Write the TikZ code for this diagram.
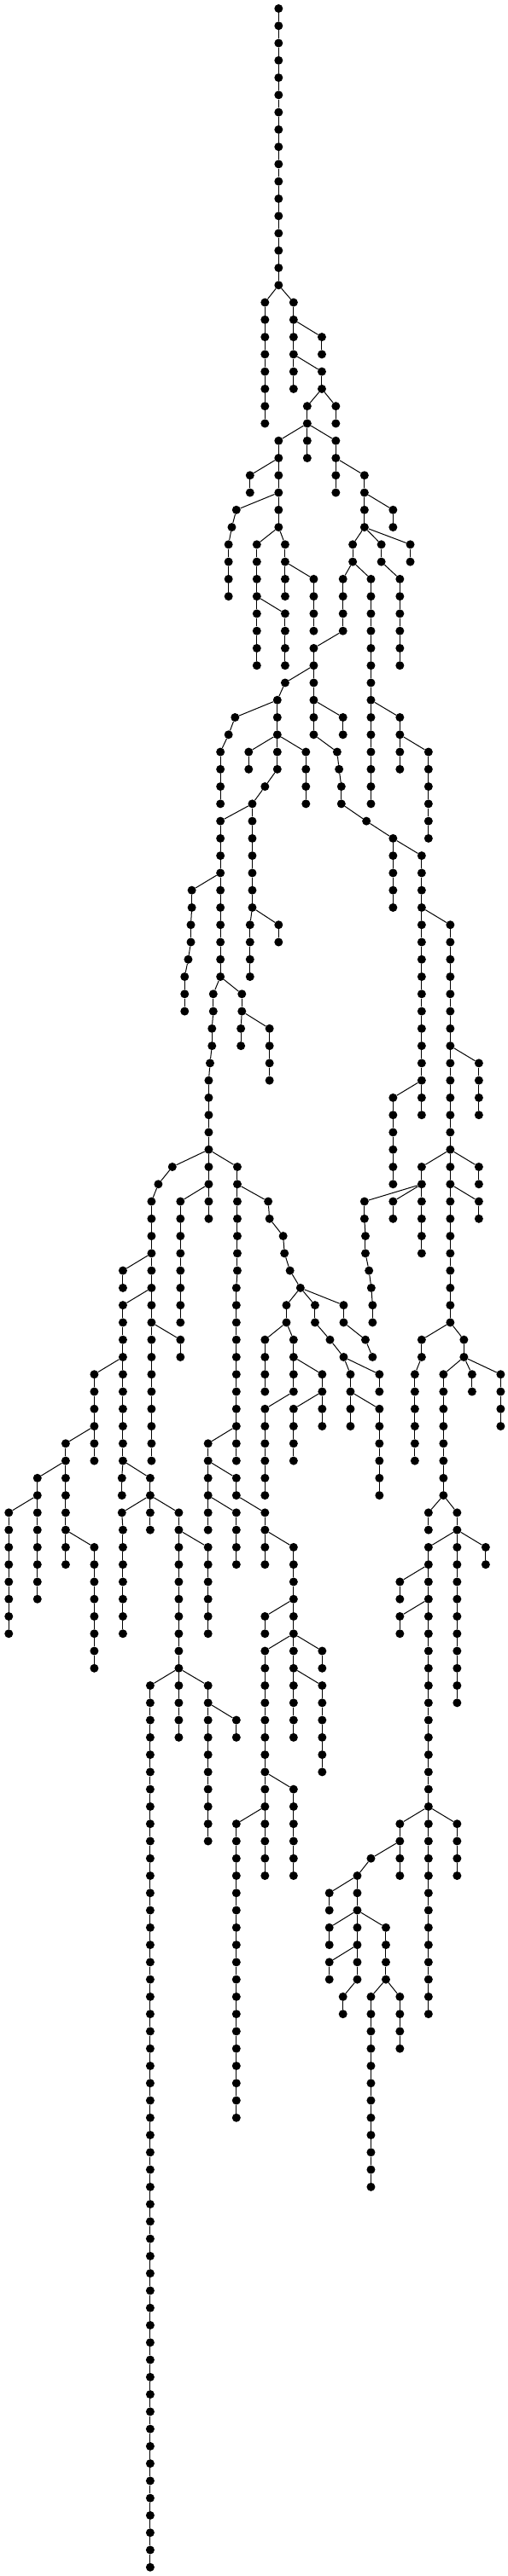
\documentclass[tikz,border=0pt]{standalone}

\newcommand\stem[5]{%
  \foreach \rr in {#4,...,#5} {
    \node[dot] (#1-\rr) at (#3,\rr) {};
    \ifnum\rr=#4\relax \draw[link] (#2) -- (#1-\rr);
    \else \pgfmathtruncatemacro\pp{\rr-1}\draw[link] (#1-\pp) -- (#1-\rr); \fi
  }}
\newcommand\branch[4]{%
  \foreach \xx [count=\i from #3] in {#4} {
    \node[dot] (#1-\i) at (\xx,\i) {};
    \ifnum\i=#3\relax \draw[link] (#2) -- (#1-\i);
    \else \pgfmathtruncatemacro\pp{\i-1}\draw[link] (#1-\pp) -- (#1-\i); \fi
  }}

\begin{document}
\begin{tikzpicture}[x=0.38077pt, y=-20.268pt,
  dot/.style={circle, fill=black, inner sep=0pt, minimum size=10pt},
  link/.style={line width=1pt}]
\useasboundingbox (0,-0.4934) rectangle (1560,148.507);

\node[dot] (a-0) at (857,0) {};
\stem{a}{a-0}{857}{1}{16}
\stem{b}{a-16}{815}{17}{24}
\stem{c}{a-16}{903}{17}{22}
\stem{d}{c-18}{990}{19}{20}
\stem{e}{c-20}{990}{21}{22}
\stem{g}{e-22}{1033}{23}{24}
\stem{f}{e-22}{945}{23}{24}
\stem{i}{f-24}{945}{25}{26}
\stem{h}{f-24}{857}{25}{26}
\stem{k}{h-26}{769}{27}{28}
\stem{l}{h-26}{857}{27}{28}
\branch{m}{l-28}{29}{727,713,703,703,703,703}
\stem{n}{l-28}{857}{29}{30}
\stem{o}{n-30}{790}{31}{38}
\stem{q}{o-34}{877}{35}{38}
\stem{p}{n-30}{877}{31}{34}
\stem{s}{p-32}{965}{33}{36}
\stem{j}{f-24}{1033}{25}{26}
\stem{t}{j-26}{1033}{27}{28}
\stem{u}{j-26}{1121}{27}{30}
\stem{v}{u-28}{1209}{29}{30}
\stem{y}{u-30}{1262}{31}{32}
\stem{x}{u-30}{1173}{31}{32}
\stem{x}{x-32}{1230}{33}{38}
\stem{w}{u-30}{1085}{31}{32}

% right part
\stem{z}{w-32}{1055}{33}{36}
\stem{z}{z-36}{965}{37}{42}
\branch{z}{z-42}{43}{1037,1043,1050,1050,1127,1209}
\stem{ae}{z-40}{1055}{41}{42}
\stem{ac}{z-48}{1209}{49}{52}
\stem{ad}{z-48}{1297}{49}{64}
\stem{ag}{ad-62}{1209}{63}{68}
\stem{af}{ad-52}{1385}{53}{66}
\stem{ah}{af-60}{1473}{61}{64}
\stem{ai}{af-66}{1297}{67}{72}
\stem{aj}{af-66}{1385}{67}{76}
\stem{ak}{af-66}{1473}{67}{68}
\stem{al}{aj-68}{1473}{69}{70}
\branch{ao}{ai-68}{69}{1121,1121,1124,1124,1135,1142,1146,1146}
\stem{ap}{ai-68}{1209}{69}{70}
\branch{am}{aj-76}{77}{1297,1297,1276,1276,1276,1276,1276,1276}
\stem{an}{aj-76}{1427}{77}{78}
\stem{aq}{an-78}{1364}{79}{86}
\stem{ar}{an-78}{1452}{79}{80}
\stem{as}{an-78}{1540}{79}{82}
\stem{at}{aq-86}{1318}{87}{88}
\stem{au}{aq-86}{1406}{87}{98}
\stem{av}{au-88}{1318}{89}{116}
\stem{aw}{au-88}{1494}{89}{90}
\stem{ax}{av-90}{1230}{91}{92}
\stem{ay}{av-92}{1230}{93}{94}
\stem{az}{av-104}{1230}{105}{108}
\stem{ba}{av-104}{1406}{105}{108}
\branch{bb}{az-106}{107}{1141,1099,1099,1099,1099,1099,1099,1099,1055,1055}
\stem{bc}{bb-108}{1013}{109}{110}
\stem{bd}{bb-110}{1013}{111}{112}
\stem{be}{bb-110}{1187}{111}{114}
\stem{bf}{bb-112}{1013}{113}{114}
\stem{bg}{be-114}{1141}{115}{126}
\stem{bh}{be-114}{1230}{115}{118}
\stem{aa}{w-32}{1141}{33}{46}
\stem{bi}{aa-40}{1230}{41}{44}
\stem{bj}{bi-42}{1318}{43}{48}

% left part
\branch{ab}{z-38}{39}{877,853,853,853,853,853,815,776}
\stem{ab}{ab-46}{776}{47}{52}
\stem{ab}{ab-52}{769}{53}{56}
\branch{bk}{ab-40}{41}{723,703,678,678,678,678}
\stem{bl}{ab-42}{765}{43}{44}
\stem{bm}{ab-42}{941}{43}{46}
\stem{bo}{ab-52}{857}{53}{54}
\stem{bn}{ab-46}{678}{47}{56}
\branch{bn}{bn-56}{57}{656,656,652,652,646}
\stem{bn}{bn-61}{642}{62}{70}
\branch{bp}{bn-50}{51}{590,590,587,587,579,568,568,568}
\branch{bq}{bn-56}{57}{744,744,741,741}
\stem{br}{bq-58}{829}{59}{62}
\branch{bs}{bn-66}{67}{530,487}
\stem{bs}{bs-68}{466}{69}{84}
\stem{bu}{bn-68}{555}{69}{76}
\stem{bv}{bs-72}{378}{73}{74}
\stem{bw}{bs-74}{378}{75}{84}
\stem{bw}{bw-84}{375}{85}{86}
\stem{bx}{bs-76}{555}{77}{78}
\stem{by}{bw-78}{290}{79}{84}
\stem{ca}{by-82}{202}{83}{90}
\stem{cb}{ca-84}{115}{85}{92}
\stem{cc}{cb-86}{27}{87}{94}
\stem{cd}{ca-88}{290}{89}{96}
\stem{bz}{bw-84}{462}{85}{88}
\branch{ce}{bz-86}{87}{375,378,378,378,378,378,378,378}
\stem{cf}{bz-86}{550}{87}{100}
\stem{cg}{cf-88}{640}{89}{94}
\stem{ch}{cf-96}{462}{97}{148}
\stem{ci}{cf-96}{640}{97}{106}
\stem{cj}{ci-98}{727}{99}{100}

% middle part
\stem{bt}{bn-66}{730}{67}{73}
\stem{bt}{bt-73}{727}{74}{84}
\branch{ck}{bt-68}{69}{825,829,871,875,892,924}
\stem{cl}{bt-82}{640}{83}{88}
\branch{cm}{cl-84}{85}{727,727,815,815,815,815}
\stem{cn}{cl-86}{727}{87}{90}
\stem{co}{cm-88}{903}{89}{100}
\stem{cp}{co-92}{815}{93}{94}
\stem{cq}{co-94}{815}{95}{108}
\stem{cr}{co-94}{991}{95}{96}
\stem{cs}{co-96}{991}{97}{102}
\stem{ct}{cq-102}{903}{103}{108}
\stem{cu}{cq-104}{727}{105}{122}
\stem{cv}{ck-74}{881}{75}{76}
\stem{cy}{cv-76}{815}{77}{80}
\stem{cz}{cv-76}{903}{77}{80}
\stem{cz}{cz-80}{815}{81}{86}
\stem{da}{cz-78}{991}{79}{82}
\stem{db}{da-80}{903}{81}{84}
\branch{cw}{ck-74}{75}{969,969,1015,1057,1078,1078,1078,1078}
\stem{dc}{cw-78}{1167}{79}{80}
\stem{dd}{cw-80}{1167}{81}{86}
\branch{cx}{ck-74}{75}{1057,1057,1124,1146}

\end{tikzpicture}
\end{document}
